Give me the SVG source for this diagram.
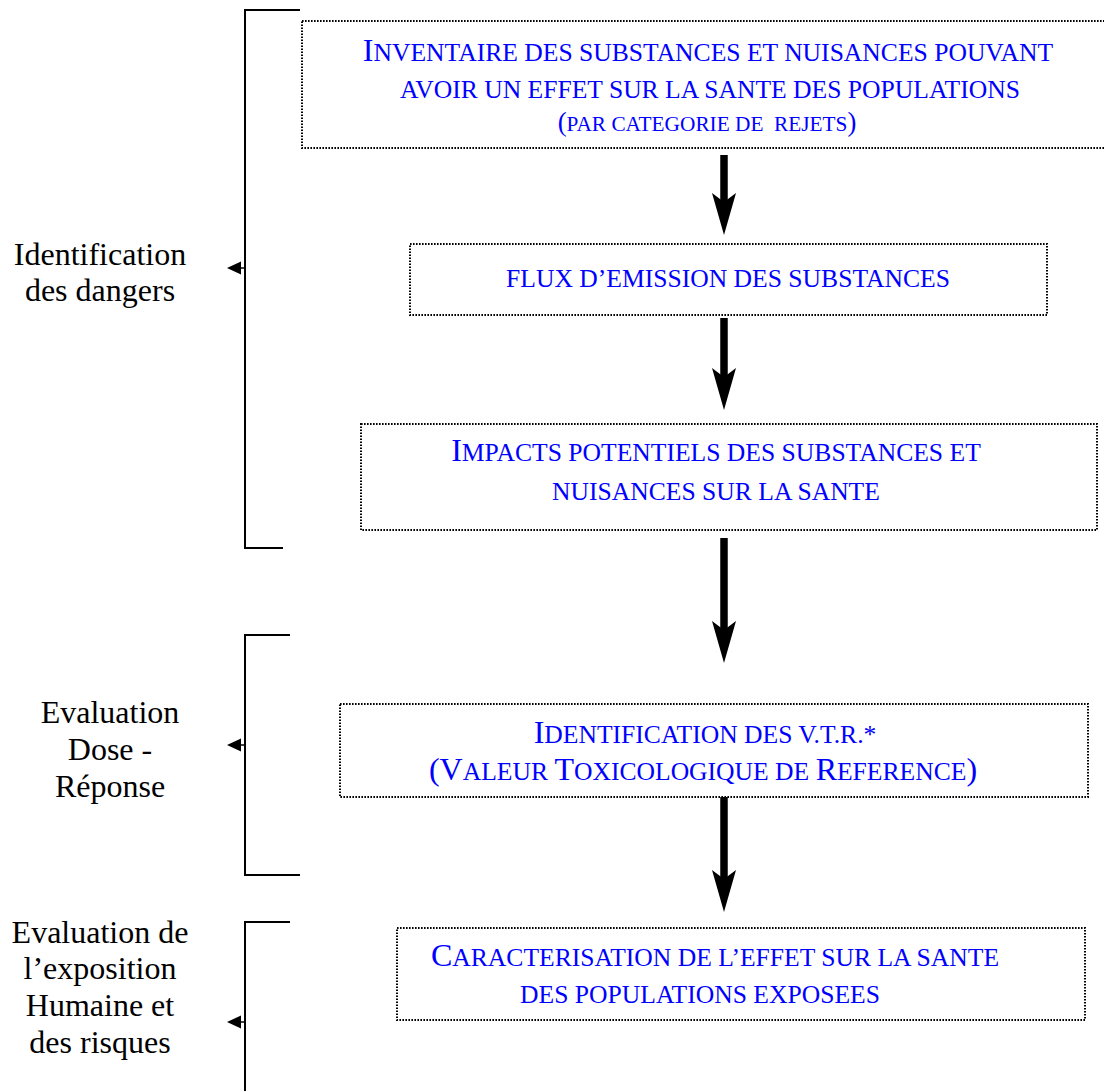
<svg xmlns="http://www.w3.org/2000/svg" width="1104" height="1091" viewBox="0 0 1104 1091">
<style>
.box{fill:#fff;stroke:#000;stroke-width:2;stroke-dasharray:1.6 1.4}
.t{font-family:"Liberation Serif","Times New Roman",serif;fill:#0000ff;text-anchor:middle;font-size:25.6px}
.b{font-size:32px}
.s{font-size:21.3px}
.m{font-size:26.7px}
.lab{font-family:"Liberation Serif","Times New Roman",serif;fill:#000;text-anchor:middle;font-size:32px}
.flow{stroke:#000;stroke-width:7.5;fill:none;marker-end:url(#head)}
.br{stroke:#000;stroke-width:2;fill:none}
.pt{stroke:#000;stroke-width:1.5;fill:none;marker-end:url(#small)}
</style>
<defs>
<marker id="head" markerUnits="userSpaceOnUse" viewBox="0 -15 50 30" markerWidth="50" markerHeight="30" refX="9" refY="0" orient="auto" overflow="visible">
<path d="M0,-12 L42,0 L0,12 L9,0 Z" fill="#000"/>
</marker>
<marker id="small" markerUnits="userSpaceOnUse" viewBox="0 -8 16 16" markerWidth="16" markerHeight="16" refX="0" refY="0" orient="auto" overflow="visible">
<path d="M0,-6.5 L14,0 L0,6.5 Z" fill="#000"/>
</marker>
</defs>

<g id="brackets">
<g id="bracket-dangers">
<path class="br" d="M300,10 H245 V548 H283"/>
<line class="pt" x1="245" y1="268" x2="241" y2="268"/>
<text class="lab"><tspan x="100" y="265">Identification</tspan><tspan x="100" y="301">des dangers</tspan></text>
</g>
<g id="bracket-dose">
<path class="br" d="M290,635 H245 V875 H300"/>
<line class="pt" x1="245" y1="745" x2="241" y2="745"/>
<text class="lab"><tspan x="110" y="723">Evaluation</tspan><tspan x="110" y="760">Dose -</tspan><tspan x="110" y="797">Réponse</tspan></text>
</g>
<g id="bracket-exposition">
<path class="br" d="M290,922 H245 V1091"/>
<line class="pt" x1="245" y1="1022" x2="241" y2="1022"/>
<text class="lab"><tspan x="100" y="943">Evaluation de</tspan><tspan x="100" y="979">l’exposition</tspan><tspan x="100" y="1016">Humaine et</tspan><tspan x="100" y="1053">des risques</tspan></text>
</g>
</g>

<g id="connectors">
<line class="flow" x1="724" y1="155" x2="724" y2="202"/>
<line class="flow" x1="724" y1="318" x2="724" y2="377"/>
<line class="flow" x1="724" y1="538" x2="724" y2="630"/>
<line class="flow" x1="724" y1="797" x2="724" y2="879"/>
</g>

<g id="node-inventaire">
<rect class="box" x="302" y="21" width="810" height="127"/>
<text class="t" x="708" y="61"><tspan class="b">I</tspan>NVENTAIRE DES SUBSTANCES ET NUISANCES POUVANT</text>
<text class="t" x="710" y="98">AVOIR UN EFFET SUR LA SANTE DES POPULATIONS</text>
<text class="t" x="707" y="131"><tspan class="m">(</tspan><tspan class="s">PAR CATEGORIE DE &#160;REJETS</tspan><tspan class="m">)</tspan></text>
</g>

<g id="node-flux">
<rect class="box" x="410" y="244" width="637" height="71"/>
<text class="t" x="728" y="287">FLUX D’EMISSION DES SUBSTANCES</text>
</g>

<g id="node-impacts">
<rect class="box" x="361" y="424" width="736" height="106"/>
<text class="t" x="716" y="461"><tspan class="b">I</tspan>MPACTS POTENTIELS DES SUBSTANCES ET</text>
<text class="t" x="716" y="500">NUISANCES SUR LA SANTE</text>
</g>

<g id="node-vtr">
<rect class="box" x="340" y="704" width="748" height="93"/>
<text class="t" x="705" y="743"><tspan class="b">I</tspan>DENTIFICATION DES V.T.R.*</text>
<text class="t" x="703" y="780"><tspan class="b">(V</tspan>ALEUR <tspan class="b">T</tspan>OXICOLOGIQUE DE <tspan class="b">R</tspan>EFERENCE<tspan class="b">)</tspan></text>
</g>

<g id="node-caracterisation">
<rect class="box" x="397" y="928" width="688" height="92"/>
<text class="t" x="715" y="966"><tspan class="b">C</tspan>ARACTERISATION DE L’EFFET SUR LA SANTE</text>
<text class="t" x="700" y="1003">DES POPULATIONS EXPOSEES</text>
</g>
</svg>
